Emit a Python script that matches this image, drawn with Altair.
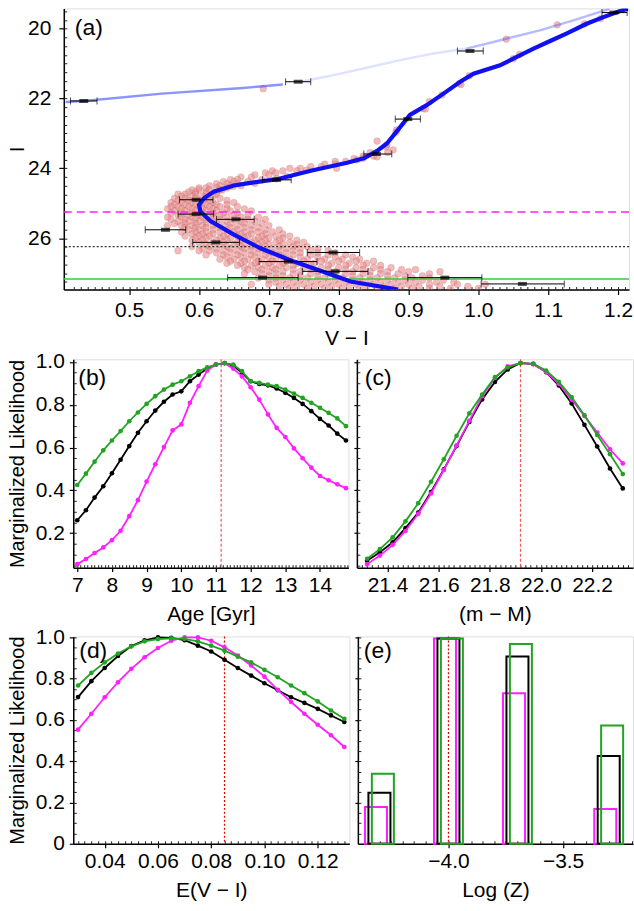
import altair as alt
import numpy as np
import pandas as pd

FONT = "Liberation Sans"
BLACK = "#000000"
GREEN = "#22a322"
MAGENTA = "#ff1fff"

# ---------------- Panel (a): colour-magnitude diagram ----------------
iso_vi = [0.885, 0.817, 0.783, 0.736, 0.688, 0.650, 0.617, 0.602, 0.600, 0.607, 0.621, 0.650,
          0.669, 0.712, 0.760, 0.812, 0.836, 0.855, 0.869, 0.884, 0.902, 0.926, 0.950, 0.974,
          0.993, 1.031, 1.050, 1.079, 1.102, 1.126, 1.155, 1.179, 1.202, 1.214]
iso_I = [27.47, 27.24, 27.00, 26.67, 26.29, 25.90, 25.52, 25.24, 25.05, 24.86, 24.67, 24.49,
         24.43, 24.31, 24.07, 23.84, 23.71, 23.50, 23.29, 22.92, 22.47, 22.19, 21.86, 21.52,
         21.29, 21.05, 20.86, 20.57, 20.36, 20.14, 19.86, 19.67, 19.50, 19.43]

hb_vi = [0.409, 0.435, 0.547, 0.663, 0.720, 0.745, 0.793, 0.840, 0.888, 0.936, 0.983,
         0.983, 1.040, 1.088, 1.136, 1.174, 1.188]
hb_I = [22.10, 22.07, 21.86, 21.70, 21.60, 21.52, 21.33, 21.12, 20.90, 20.71, 20.57,
        20.57, 20.29, 20.05, 19.76, 19.52, 19.43]
hb_seg = [1, 1, 1, 1, 1, 2, 2, 2, 2, 2, 2, 3, 3, 3, 3, 3, 3]
hb_seg_alpha = {1: 0.55, 2: 0.15, 3: 0.35}

eb_vi = [1.194, 0.988, 0.742, 0.435, 0.899, 0.854, 0.711, 0.596, 0.596, 0.653, 0.552, 0.624,
         0.792, 0.728, 0.795, 0.691, 0.952, 1.063]
eb_I = [19.54, 20.64, 21.52, 22.07, 22.59, 23.59, 24.33, 24.90, 25.31, 25.46, 25.76, 26.12,
        26.41, 26.67, 26.95, 27.13, 27.13, 27.31]
eb_lo = [1.177, 0.970, 0.724, 0.416, 0.881, 0.836, 0.691, 0.572, 0.570, 0.625, 0.523, 0.591,
         0.755, 0.686, 0.748, 0.641, 0.899, 1.004]
eb_hi = [1.213, 1.007, 0.760, 0.454, 0.917, 0.876, 0.732, 0.620, 0.621, 0.679, 0.581, 0.658,
         0.830, 0.769, 0.842, 0.742, 1.005, 1.123]

hline_I = [25.25, 26.24, 27.17]
hline_color = [MAGENTA, "#333333", "#3cc83c"]

cloud_rows = [
    (23.55, [0.87, 0.845]), (23.65, [0.835, 0.85]), (23.72, [0.822]), (23.80, [0.81, 0.795]),
    (23.88, [0.795, 0.78]), (23.95, [0.775, 0.76]), (24.00, [0.745, 0.73]),
    (24.07, [0.72, 0.705, 0.74]), (24.13, [0.695, 0.71]), (24.19, [0.70, 0.68]),
    (24.25, [0.675, 0.66]), (24.32, [0.69, 0.655, 0.645]), (24.38, [0.67, 0.65, 0.635]),
    (24.44, [0.64, 0.655, 0.625]), (24.50, [0.63, 0.645, 0.615, 0.66]),
    (24.56, [0.61, 0.625, 0.64, 0.60]), (24.62, [0.60, 0.615, 0.63, 0.59]),
    (24.68, [0.595, 0.61, 0.585, 0.625]), (24.74, [0.58, 0.595, 0.61, 0.57, 0.625]),
    (24.80, [0.575, 0.59, 0.605, 0.62]), (24.86, [0.565, 0.58, 0.595, 0.61, 0.63]),
    (24.92, [0.57, 0.585, 0.60, 0.615, 0.64]), (24.98, [0.56, 0.575, 0.59, 0.605, 0.62, 0.65]),
    (25.04, [0.565, 0.58, 0.595, 0.61, 0.625, 0.64]),
    (25.10, [0.56, 0.57, 0.585, 0.60, 0.615, 0.63, 0.655]),
    (25.16, [0.555, 0.575, 0.59, 0.605, 0.62, 0.64, 0.665]),
    (25.22, [0.565, 0.58, 0.595, 0.61, 0.625, 0.645, 0.675]),
    (25.28, [0.56, 0.575, 0.59, 0.605, 0.62, 0.635, 0.655]),
    (25.34, [0.57, 0.585, 0.60, 0.615, 0.63, 0.65, 0.67]),
    (25.40, [0.555, 0.575, 0.59, 0.605, 0.62, 0.64, 0.66, 0.685]),
    (25.46, [0.56, 0.58, 0.595, 0.61, 0.63, 0.65, 0.67, 0.695]),
    (25.52, [0.57, 0.585, 0.60, 0.62, 0.64, 0.66, 0.68]),
    (25.58, [0.565, 0.58, 0.595, 0.61, 0.625, 0.645, 0.665, 0.69]),
    (25.64, [0.555, 0.575, 0.59, 0.605, 0.62, 0.635, 0.655, 0.675, 0.70]),
    (25.70, [0.58, 0.595, 0.61, 0.63, 0.645, 0.665, 0.685]),
    (25.76, [0.585, 0.60, 0.62, 0.64, 0.655, 0.675, 0.695, 0.715]),
    (25.82, [0.575, 0.595, 0.61, 0.63, 0.65, 0.665, 0.685, 0.705]),
    (25.88, [0.59, 0.605, 0.62, 0.64, 0.66, 0.675, 0.695, 0.72]),
    (25.94, [0.58, 0.60, 0.615, 0.635, 0.655, 0.67, 0.69, 0.71, 0.73]),
    (26.00, [0.595, 0.61, 0.63, 0.645, 0.665, 0.685, 0.70, 0.72]),
    (26.06, [0.59, 0.605, 0.625, 0.64, 0.66, 0.68, 0.695, 0.715, 0.74]),
    (26.12, [0.60, 0.62, 0.635, 0.655, 0.675, 0.69, 0.71, 0.73, 0.75]),
    (26.18, [0.61, 0.63, 0.65, 0.665, 0.685, 0.70, 0.72, 0.74]),
    (26.24, [0.59, 0.615, 0.64, 0.66, 0.675, 0.695, 0.715, 0.735, 0.755]),
    (26.30, [0.605, 0.625, 0.645, 0.665, 0.685, 0.705, 0.725, 0.745, 0.77]),
    (26.36, [0.57, 0.60, 0.615, 0.635, 0.655, 0.675, 0.695, 0.715, 0.735, 0.76, 0.785]),
    (26.42, [0.625, 0.645, 0.665, 0.685, 0.705, 0.725, 0.745, 0.77, 0.795]),
    (26.48, [0.61, 0.635, 0.655, 0.675, 0.695, 0.715, 0.735, 0.76, 0.785, 0.81]),
    (26.54, [0.64, 0.66, 0.68, 0.70, 0.72, 0.745, 0.77, 0.795, 0.82]),
    (26.60, [0.63, 0.65, 0.67, 0.69, 0.71, 0.73, 0.755, 0.78, 0.805, 0.83]),
    (26.66, [0.645, 0.665, 0.685, 0.705, 0.725, 0.75, 0.775, 0.80, 0.825, 0.85]),
    (26.72, [0.64, 0.66, 0.68, 0.70, 0.72, 0.74, 0.765, 0.79, 0.815, 0.84]),
    (26.78, [0.655, 0.675, 0.695, 0.715, 0.735, 0.76, 0.785, 0.81, 0.835, 0.86]),
    (26.84, [0.665, 0.685, 0.705, 0.725, 0.75, 0.775, 0.80, 0.825, 0.85, 0.875]),
    (26.90, [0.67, 0.69, 0.71, 0.735, 0.76, 0.785, 0.81, 0.835, 0.86, 0.89, 0.91]),
    (26.96, [0.68, 0.70, 0.72, 0.745, 0.77, 0.795, 0.82, 0.845, 0.87, 0.90, 0.945]),
    (27.02, [0.665, 0.69, 0.71, 0.735, 0.76, 0.785, 0.81, 0.835, 0.86, 0.885, 0.93]),
    (27.08, [0.70, 0.72, 0.745, 0.77, 0.795, 0.82, 0.845, 0.87, 0.895, 0.92]),
    (27.14, [0.685, 0.71, 0.73, 0.755, 0.78, 0.805, 0.83, 0.855, 0.88, 0.905, 0.93]),
    (27.20, [0.70, 0.72, 0.745, 0.77, 0.795, 0.82, 0.845, 0.87, 0.895, 0.92, 0.95]),
    (27.26, [0.71, 0.735, 0.76, 0.785, 0.81, 0.835, 0.86, 0.885, 0.91, 0.94, 0.965]),
    (27.32, [0.675, 0.70, 0.725, 0.75, 0.775, 0.80, 0.825, 0.85, 0.875, 0.90, 0.93, 0.97, 1.01]),
    (27.38, [0.715, 0.74, 0.765, 0.79, 0.815, 0.84, 0.865, 0.89, 0.915, 0.945, 0.985]),
    (27.44, [0.73, 0.755, 0.78, 0.805, 0.83, 0.855, 0.88, 0.905, 0.93, 0.96, 1.0]),
]
extra_vi = [0.883, 0.855, 0.868, 0.855, 0.835, 0.826, 0.797, 0.754, 0.726, 0.711, 0.68, 0.649,
            0.633, 1.04, 1.113, 1.152, 1.175, 1.059, 0.987, 0.973, 0.948, 0.930, 0.921, 0.882,
            0.869, 0.878, 0.692, 0.924, 1.05, 0.975]
extra_I = [22.90, 23.22, 23.38, 23.67, 23.71, 23.76, 24.00, 24.05, 24.24, 24.30, 24.43, 24.52,
           24.62, 20.30, 19.89, 19.86, 19.71, 20.74, 21.35, 21.57, 21.90, 22.09, 22.29, 22.97,
           23.33, 23.47, 21.72, 22.30, 20.86, 21.60]

# ---------------- Panels (b)-(e): marginalized likelihoods ----------------
age_gyr = [7.0, 7.25, 7.5, 7.75, 8.0, 8.25, 8.5, 8.75, 9.0, 9.25, 9.5, 9.75, 10.0, 10.25, 10.5,
           10.75, 11.0, 11.25, 11.5, 11.75, 12.0, 12.25, 12.5, 12.75, 13.0, 13.25, 13.5, 13.75,
           14.0, 14.25, 14.5, 14.75]
age_black = [0.26, 0.307, 0.366, 0.419, 0.48, 0.543, 0.607, 0.669, 0.723, 0.773, 0.814, 0.848,
             0.863, 0.91, 0.941, 0.969, 0.988, 0.995, 0.983, 0.949, 0.91, 0.897, 0.891, 0.876,
             0.856, 0.832, 0.804, 0.770, 0.734, 0.703, 0.665, 0.633]
age_green = [0.425, 0.478, 0.534, 0.587, 0.633, 0.677, 0.723, 0.764, 0.804, 0.840, 0.871, 0.894,
             0.910, 0.933, 0.957, 0.975, 0.988, 0.995, 0.988, 0.957, 0.910, 0.902, 0.894, 0.887,
             0.871, 0.852, 0.832, 0.809, 0.786, 0.762, 0.736, 0.70]
age_mag = [0.055, 0.079, 0.107, 0.133, 0.167, 0.211, 0.279, 0.354, 0.441, 0.522, 0.602, 0.68,
           0.708, 0.809, 0.887, 0.96, 0.988, 0.994, 0.969, 0.933, 0.882, 0.824, 0.755, 0.692,
           0.649, 0.596, 0.550, 0.506, 0.467, 0.447, 0.428, 0.410]
age_best = 11.15

dm = [21.32, 21.37, 21.42, 21.47, 21.52, 21.57, 21.62, 21.67, 21.72, 21.77, 21.82, 21.87, 21.92,
      21.97, 22.02, 22.07, 22.12, 22.17, 22.22, 22.27, 22.32]
dm_black = [0.071, 0.11, 0.157, 0.223, 0.296, 0.392, 0.498, 0.607, 0.72, 0.825, 0.907, 0.965,
            0.995, 0.991, 0.953, 0.89, 0.806, 0.706, 0.605, 0.502, 0.409]
dm_green = [0.08, 0.125, 0.18, 0.255, 0.34, 0.44, 0.545, 0.655, 0.76, 0.848, 0.929, 0.975,
            0.995, 0.991, 0.96, 0.907, 0.836, 0.751, 0.659, 0.569, 0.476]
dm_mag = [0.055, 0.095, 0.145, 0.21, 0.29, 0.385, 0.495, 0.61, 0.725, 0.84, 0.925, 0.98, 0.995,
          0.99, 0.953, 0.898, 0.825, 0.748, 0.67, 0.592, 0.526]
dm_best = 21.92

ebv = [0.030, 0.035, 0.040, 0.045, 0.050, 0.055, 0.060, 0.065, 0.070, 0.075, 0.080, 0.085,
       0.090, 0.095, 0.100, 0.105, 0.110, 0.115, 0.120, 0.125, 0.130]
ebv_black = [0.711, 0.788, 0.852, 0.91, 0.958, 0.986, 1.0, 0.998, 0.987, 0.96, 0.932, 0.892,
             0.852, 0.815, 0.778, 0.744, 0.71, 0.683, 0.654, 0.622, 0.590]
ebv_green = [0.767, 0.828, 0.879, 0.922, 0.957, 0.981, 0.992, 0.996, 0.993, 0.981, 0.96, 0.936,
             0.907, 0.879, 0.843, 0.807, 0.767, 0.73, 0.69, 0.646, 0.606]
ebv_mag = [0.553, 0.63, 0.71, 0.783, 0.848, 0.904, 0.949, 0.984, 1.0, 1.0, 0.984, 0.952,
           0.912, 0.864, 0.81, 0.746, 0.687, 0.63, 0.577, 0.526, 0.469]
ebv_best = 0.085

logz = [-4.301, -4.0, -3.699, -3.301]
logz_black = [0.247, 0.995, 0.908, 0.425]
logz_green = [0.339, 0.995, 0.968, 0.573]
logz_mag = [0.178, 0.995, 0.73, 0.169]
logz_best = -4.0

# ---------------- helpers ----------------
def ticks_in(df, xf, yf, xs, ys, xvals, yvals, size=3):
    """Invisible layer that only carries inward-pointing minor tick axes."""
    return alt.Chart(df).mark_point(opacity=0, size=1).encode(
        x=alt.X(f"{xf}:Q", scale=xs,
                axis=alt.Axis(orient="bottom", values=xvals, labels=False, domain=False,
                              ticks=True, tickSize=size, offset=-size, title=None,
                              grid=False, tickColor="#222222", tickWidth=1)),
        y=alt.Y(f"{yf}:Q", scale=ys,
                axis=alt.Axis(orient="left", values=yvals, labels=False, domain=False,
                              ticks=True, tickSize=size, offset=-size, title=None,
                              grid=False, tickColor="#222222", tickWidth=1)),
    )


def label(text, px, py):
    return alt.Chart(pd.DataFrame({"t": [text]})).mark_text(
        align="left", baseline="middle", fontSize=23, font=FONT, color="black"
    ).encode(text="t:N", x=alt.value(px), y=alt.value(py))


def rng(a, b, s):
    return [float(v) for v in np.round(np.arange(a, b + s / 2, s), 4)]


AX_COMMON = dict(grid=False, domainColor="black", domainWidth=1.5, tickColor="black",
                 tickWidth=1.2, labelFont=FONT, titleFont=FONT, labelColor="black",
                 titleColor="black", titleFontWeight="normal")

# ---------------- panel (a) ----------------
W_A, H_A = 567, 282
xs_a = alt.Scale(domain=[0.4064, 1.2157], nice=False, zero=False)
ys_a = alt.Scale(domain=[19.42, 27.47], reverse=True, nice=False, zero=False)

cv, ci = [], []
for I, cols in cloud_rows:
    for c in cols:
        cv.append(c)
        ci.append(I)
cloud_df = pd.DataFrame({"vi": cv + extra_vi, "I": ci + extra_I})
iso_df = pd.DataFrame({"vi": iso_vi, "I": iso_I, "k": range(len(iso_vi))})
hb_df = pd.DataFrame({"vi": hb_vi, "I": hb_I, "seg": hb_seg, "k": range(len(hb_vi))})
hb_df["op"] = hb_df["seg"].map(hb_seg_alpha)
eb_df = pd.DataFrame({"vi": eb_vi, "I": eb_I, "lo": eb_lo, "hi": eb_hi})
hl_df = pd.DataFrame({"I": hline_I, "c": hline_color})

xa_main = alt.Axis(orient="bottom", values=[0.5, 0.6, 0.7, 0.8, 0.9, 1.0, 1.1, 1.2], format=".1f",
                   labelFontSize=21, tickSize=5, labelPadding=5, title="V − I",
                   titleFontSize=21, titlePadding=7, **AX_COMMON)
ya_main = alt.Axis(orient="left", values=[20, 22, 24, 26], format="d", labelFontSize=21,
                   tickSize=5, labelPadding=8, title="I", titleFontSize=21, titlePadding=0,
                   **AX_COMMON)

scatter = alt.Chart(cloud_df).mark_circle(
    size=46, color="#f08c8c", opacity=0.6, stroke="#5a3030", strokeWidth=0.7, strokeOpacity=0.33,
    clip=True
).encode(x=alt.X("vi:Q", scale=xs_a, axis=xa_main), y=alt.Y("I:Q", scale=ys_a, axis=ya_main))

hl_layers = []
for I, c, dash, wdt in zip(hline_I, hline_color, [[8, 5], [2, 2], [1, 0]], [1.4, 1.3, 1.4]):
    hl_layers.append(
        alt.Chart(hl_df[hl_df["I"] == I]).mark_rule(color=c, strokeDash=dash, strokeWidth=wdt)
        .encode(y=alt.Y("I:Q", scale=ys_a, axis=None))
    )

hb_line = alt.Chart(hb_df).mark_line(color="#2a3cff", strokeWidth=2.4, clip=True).encode(
    x=alt.X("vi:Q", scale=xs_a, axis=None), y=alt.Y("I:Q", scale=ys_a, axis=None),
    detail="seg:N", order="k:Q", opacity=alt.Opacity("op:Q", scale=None))
iso_line = alt.Chart(iso_df).mark_line(color="#1010f0", strokeWidth=4.2, clip=True).encode(
    x=alt.X("vi:Q", scale=xs_a, axis=None), y=alt.Y("I:Q", scale=ys_a, axis=None), order="k:Q")

eb_rule = alt.Chart(eb_df).mark_rule(color="black", strokeWidth=1).encode(
    x=alt.X("lo:Q", scale=xs_a, axis=None), x2="hi:Q", y=alt.Y("I:Q", scale=ys_a, axis=None))
eb_cap_lo = alt.Chart(eb_df).mark_tick(orient="vertical", size=7, thickness=1, color="black").encode(
    x=alt.X("lo:Q", scale=xs_a, axis=None), y=alt.Y("I:Q", scale=ys_a, axis=None))
eb_cap_hi = alt.Chart(eb_df).mark_tick(orient="vertical", size=7, thickness=1, color="black").encode(
    x=alt.X("hi:Q", scale=xs_a, axis=None), y=alt.Y("I:Q", scale=ys_a, axis=None))
eb_mid = alt.Chart(eb_df).mark_tick(orient="horizontal", size=9, thickness=4, color="black").encode(
    x=alt.X("vi:Q", scale=xs_a, axis=None), y=alt.Y("I:Q", scale=ys_a, axis=None))

ticks_a = ticks_in(iso_df, "vi", "I", xs_a, ys_a, rng(0.42, 1.21, 0.01), rng(19.5, 27.25, 0.25))

panel_a = alt.layer(
    scatter, *hl_layers, hb_line, iso_line, eb_rule, eb_cap_lo, eb_cap_hi, eb_mid, ticks_a,
    label("(a)", 11, 20)
).resolve_axis(x="independent", y="independent").properties(width=W_A, height=H_A)


# ---------------- likelihood panels ----------------
def like_panel(x, blk, grn, mag, xs, ys, xaxis, yaxis, w, h, best, best_color, best_dash,
               lab, lxy, xminor, yminor):
    df = pd.DataFrame({"x": x, "black": blk, "green": grn, "mag": mag})
    layers = []
    first = True
    for col, colr in [("black", BLACK), ("mag", MAGENTA), ("green", GREEN)]:
        ax_x = xaxis if first else None
        ax_y = yaxis if first else None
        layers.append(
            alt.Chart(df).mark_line(color=colr, strokeWidth=1.8,
                                    point=alt.OverlayMarkDef(color=colr, size=22, filled=True))
            .encode(x=alt.X("x:Q", scale=xs, axis=ax_x), y=alt.Y(f"{col}:Q", scale=ys, axis=ax_y))
        )
        first = False
    vl = alt.Chart(pd.DataFrame({"v": [best]})).mark_rule(
        color=best_color, strokeDash=best_dash, strokeWidth=1.2
    ).encode(x=alt.X("v:Q", scale=xs, axis=None))
    tk = ticks_in(df, "x", "black", xs, ys, xminor, yminor)
    return alt.layer(vl, *layers, tk, label(lab, *lxy)).resolve_axis(
        x="independent", y="independent").properties(width=w, height=h)


def yaxis_like(show, title, fmt_expr):
    if show:
        return alt.Axis(orient="left", values=[0.2, 0.4, 0.6, 0.8, 1.0] if fmt_expr is None else
                        [0, 0.2, 0.4, 0.6, 0.8, 1.0],
                        labelExpr=fmt_expr or "format(datum.value, '.1f')",
                        labelFontSize=21, tickSize=4, labelPadding=5, title=title,
                        titleFontSize=20, titlePadding=8, **AX_COMMON)
    return alt.Axis(orient="left", labels=False, ticks=True, tickSize=3, title=None,
                    values=[0.2, 0.4, 0.6, 0.8, 1.0], **AX_COMMON)


H_B = 209
ys_b = alt.Scale(domain=[0.0386, 1.0126], nice=False, zero=False)
xs_b = alt.Scale(domain=[6.885, 14.82], nice=False, zero=False)
xs_c = alt.Scale(domain=[21.28, 22.36], nice=False, zero=False)
H_D = 208
ys_d = alt.Scale(domain=[0.0, 1.005], nice=False, zero=False)
xs_d = alt.Scale(domain=[0.0282, 0.1319], nice=False, zero=False)
xs_e = alt.Scale(domain=[-4.395, -3.195], nice=False, zero=False)

XT = dict(labelFontSize=21, tickSize=4, labelPadding=3, titleFontSize=21, titlePadding=8)
xb_axis = alt.Axis(orient="bottom", values=[7, 8, 9, 10, 11, 12, 13, 14], format="d",
                   title="Age [Gyr]", **XT, **AX_COMMON)
xc_axis = alt.Axis(orient="bottom", values=[21.4, 21.6, 21.8, 22.0, 22.2], format=".1f",
                   title="(m − M)", **XT, **AX_COMMON)
xd_axis = alt.Axis(orient="bottom", values=[0.04, 0.06, 0.08, 0.10, 0.12], format=".2f",
                   title="E(V − I)", **XT, **AX_COMMON)
xe_axis = alt.Axis(orient="bottom", values=[-4.0, -3.5], format=".1f",
                   title="Log (Z)", **XT, **AX_COMMON)

panel_b = like_panel(age_gyr, age_black, age_green, age_mag, xs_b, ys_b, xb_axis,
                     yaxis_like(True, "Marginalized Likelihood", None), 276, H_B,
                     age_best, "#f05a5a", [3, 2], "(b)", (5, 19),
                     rng(7.0, 14.8, 0.1), rng(0.05, 1.0, 0.05))
panel_c = like_panel(dm, dm_black, dm_green, dm_mag, xs_c, ys_b, xc_axis,
                     yaxis_like(False, None, None), 277, H_B,
                     dm_best, "#f05a5a", [3, 2], "(c)", (8, 19),
                     rng(21.3, 22.34, 0.02), rng(0.05, 1.0, 0.05))
panel_d = like_panel(ebv, ebv_black, ebv_green, ebv_mag, xs_d, ys_d, xd_axis,
                     yaxis_like(True, "Marginalized Likelihood",
                                "datum.value == 0 ? '0' : format(datum.value, '.1f')"),
                     277, H_D, ebv_best, "#e00000", [2, 2], "(d)", (6, 15),
                     rng(0.03, 0.13, 0.0025), rng(0.05, 1.0, 0.05))

# panel (e): outlined histogram bars
half_w = 0.048
offs = {"mag": -0.015, "black": 0.0, "green": 0.015}
e_rows = []
for j, z in enumerate(logz):
    for s, vals in [("mag", logz_mag), ("black", logz_black), ("green", logz_green)]:
        e_rows.append({"s": s, "lo": z + offs[s] - half_w, "hi": z + offs[s] + half_w,
                       "h": vals[j], "base": 0.0})
e_df = pd.DataFrame(e_rows)
e_layers = []
first = True
for s, colr in [("mag", MAGENTA), ("black", BLACK), ("green", GREEN)]:
    e_layers.append(
        alt.Chart(e_df[e_df["s"] == s]).mark_rect(filled=False, color=colr, strokeWidth=2)
        .encode(x=alt.X("lo:Q", scale=xs_e, axis=xe_axis if first else None), x2="hi:Q",
                y=alt.Y("h:Q", scale=ys_d, axis=yaxis_like(False, None, None) if first else None),
                y2="base:Q")
    )
    first = False
e_vl = alt.Chart(pd.DataFrame({"v": [logz_best]})).mark_rule(
    color="#e00000", strokeDash=[2, 2], strokeWidth=1.2).encode(x=alt.X("v:Q", scale=xs_e, axis=None))
panel_e = alt.layer(
    e_vl, *e_layers, ticks_in(e_df, "lo", "h", xs_e, ys_d, rng(-4.35, -3.2, 0.05), rng(0.05, 1.0, 0.05)),
    label("(e)", 6, 15)
).resolve_axis(x="independent", y="independent").properties(width=276, height=H_D)


def spacer(w, h):
    return alt.Chart(pd.DataFrame({"z": [0.0]})).mark_point(opacity=0, size=1).encode(
        x=alt.X("z:Q", axis=None), y=alt.Y("z:Q", axis=None)
    ).properties(width=w, height=h, view=alt.ViewBackground(strokeOpacity=0))


# rows of two panels; a 1-px invisible spacer shifts them right of panel (a)'s axis
row_bc = alt.hconcat(spacer(1, H_B), panel_b, panel_c, spacing=8.5, bounds="flush")
row_de = alt.hconcat(spacer(1, H_D), panel_d, panel_e, spacing=8.5, bounds="flush")

# With flush bounds a nested row counts as zero height, so a spacer view fills
# the height of the (b)/(c) row: 70 + 138 + 70 = gap from row (b) top to row (d) top.
GAP = 70
chart = alt.vconcat(panel_a, row_bc, spacer(1, 138), row_de, spacing=GAP, bounds="flush").properties(
    padding={"left": 6, "top": 6, "right": 0, "bottom": 0}
).configure_view(stroke="#8a8a8a", strokeWidth=1.5).configure(background="white")

chart.save("out.html", embed_options={"renderer": "svg", "actions": False})
